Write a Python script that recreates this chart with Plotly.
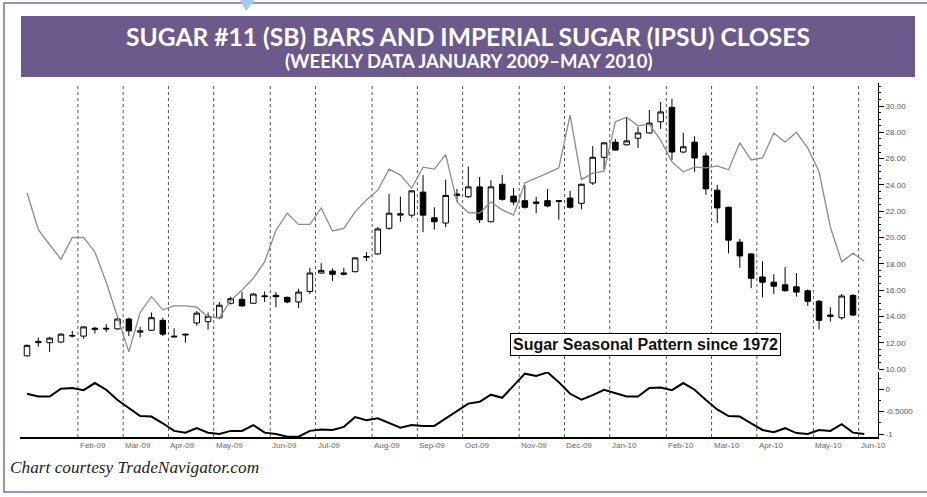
import pandas as pd
import plotly.graph_objects as go

# ---------------- data ----------------
n_weeks = 75
week_dates = pd.date_range("2009-01-02", periods=n_weeks, freq="7D")  # weekly (Friday) bars

sb_open = [11.0, 12.0, 12.0, 12.05, 12.5, 12.5, 13.0, 13.1, 13.05, 13.8,
           12.8, 12.95, 13.7, 12.5, 12.65, 13.5, 13.6, 13.9, 15.0, 15.3,
           15.0, 15.5, 15.6, 15.45, 15.1, 15.9, 17.3, 17.45, 17.2, 17.4,
           18.5, 18.75, 20.7, 21.7, 21.7, 23.45, 21.5, 21.1, 23.2, 23.1,
           23.85, 21.2, 24.05, 23.15, 22.8, 22.7, 22.8, 22.8, 23.0, 22.6,
           24.15, 26.1, 27.25, 27.05, 27.55, 27.95, 28.8, 29.9, 26.5, 27.25,
           26.2, 23.6, 22.3, 19.65, 18.75, 17.0, 16.6, 16.4, 16.25, 15.95,
           15.15, 14.0, 13.9, 15.6]
sb_high = [11.85, 12.4, 12.45, 12.7, 12.9, 13.25, 13.2, 13.4, 14.0, 13.9,
           13.2, 14.3, 13.9, 13.1, 12.7, 14.4, 14.3, 15.1, 15.5, 15.85,
           15.75, 15.9, 15.85, 15.5, 16.1, 17.7, 18.05, 17.65, 17.7, 18.5,
           18.9, 20.8, 23.3, 23.1, 23.6, 24.75, 22.3, 24.4, 23.7, 25.4,
           24.6, 24.35, 24.75, 23.75, 24.0, 23.1, 23.7, 22.85, 23.55, 24.1,
           26.95, 27.25, 27.5, 29.15, 28.4, 29.7, 30.3, 30.55, 27.95, 27.7,
           26.45, 24.0, 22.35, 19.9, 18.8, 18.2, 17.2, 17.75, 17.3, 16.05,
           15.25, 14.7, 15.7, 15.7]
sb_low = [10.95, 11.7, 11.3, 12.0, 12.4, 12.3, 12.7, 12.8, 13.0, 12.5,
          12.4, 12.9, 12.5, 12.4, 12.0, 13.3, 13.0, 13.8, 14.9, 14.75,
          14.95, 15.1, 14.7, 15.0, 14.65, 15.7, 17.25, 16.7, 17.1, 17.35,
          18.2, 18.7, 20.6, 21.2, 21.5, 20.4, 20.6, 20.8, 22.7, 23.0,
          21.1, 21.15, 22.8, 22.45, 22.2, 21.85, 22.3, 21.35, 22.2, 22.15,
          24.0, 25.15, 26.6, 27.0, 26.8, 27.9, 28.25, 25.9, 26.4, 25.0,
          23.25, 21.1, 18.8, 17.7, 16.15, 15.45, 15.7, 15.9, 15.5, 14.8,
          13.0, 13.6, 13.75, 14.05]
sb_close = [11.8, 12.1, 12.35, 12.65, 12.55, 13.2, 13.1, 13.05, 13.8, 12.9,
            12.9, 13.9, 12.65, 12.45, 12.6, 14.25, 14.0, 14.85, 15.35, 14.8,
            15.7, 15.55, 15.5, 15.1, 15.85, 17.3, 17.5, 17.2, 17.3, 18.45,
            18.55, 20.65, 21.85, 21.8, 23.55, 21.7, 21.2, 23.2, 23.3, 23.85,
            21.35, 23.85, 22.9, 22.7, 22.3, 22.6, 22.4, 22.75, 22.3, 24.05,
            26.1, 27.2, 26.65, 27.35, 27.95, 28.7, 29.55, 26.5, 26.9, 26.05,
            23.7, 22.25, 19.8, 18.6, 16.9, 16.6, 16.3, 15.95, 15.85, 15.15,
            13.7, 14.1, 15.55, 14.1]

ipsu_close = [23.4, 20.6, 19.45, 18.35, 20.0, 20.0, 18.9, 16.6, 13.95, 11.3,
              14.3, 15.5, 14.5, 14.8, 14.8, 14.7, 13.95, 13.9, 15.2, 16.0,
              16.9, 18.15, 20.55, 21.85, 21.0, 21.0, 22.25, 20.5, 20.7, 21.95,
              22.85, 23.6, 25.2, 24.75, 23.75, 25.35, 25.2, 26.3, 22.7, 21.9,
              21.85, 22.7, 22.1, 21.7, 24.15, 24.5, 24.9, 25.3, 29.3, 24.4,
              24.9, 25.05, 28.8, 29.15, 28.5, 28.6, 27.4, 25.75, 25.0, 25.35,
              25.3, 25.45, 25.15, 27.2, 25.9, 26.05, 27.95, 27.25, 28.0, 26.8,
              25.0, 20.8, 18.15, 18.8, 18.2]

seasonal = [-0.10, -0.16, -0.16, 0.015, 0.03, -0.02, 0.14, -0.01, -0.24, -0.43,
            -0.60, -0.61, -0.76, -0.93, -0.97, -0.87, -0.97, -1.0, -0.93, -0.93,
            -0.80, -0.97, -1.0, -1.06, -1.06, -0.93, -0.90, -0.91, -0.84, -0.62,
            -0.69, -0.65, -0.76, -0.86, -0.80, -0.82, -0.82, -0.65, -0.47, -0.32,
            -0.28, -0.12, -0.19, 0.09, 0.35, 0.30, 0.38, 0.16, -0.10, -0.23,
            -0.13, -0.01, -0.08, -0.16, -0.16, 0.03, 0.04, -0.02, 0.14, -0.01,
            -0.24, -0.45, -0.60, -0.61, -0.76, -0.91, -0.96, -0.87, -0.98, -1.0,
            -0.91, -0.93, -0.78, -0.97, -1.0]

upper_ticks = [10, 12, 14, 16, 18, 20, 22, 24, 26, 28, 30]
lower_ticks = [0, -0.5, -1]
lower_tick_text = ["0", "-0.5000", "-1"]

title_main = "SUGAR #11 (SB) BARS AND IMPERIAL SUGAR (IPSU) CLOSES"
title_sub = "(WEEKLY DATA JANUARY 2009\u2013MAY 2010)"
box_label = "Sugar Seasonal Pattern since 1972"
caption = "Chart courtesy TradeNavigator.com"

# ---------------- layout helpers (pixel -> paper) ----------------
W, H = 927, 497
PL, PR, PT, PB = 20, 878, 83, 437


def px(x):
    return (x - PL) / (PR - PL)


def py(y):
    return (PB - y) / (PB - PT)


week = pd.Timedelta(days=7)
x_range = [week_dates[0] - 0.62 * week, week_dates[0] + 75.21 * week]

fig = go.Figure()

# IPSU closes (gray line)
fig.add_trace(go.Scatter(x=week_dates, y=ipsu_close, mode="lines",
                         line=dict(color="#8c8c8c", width=1.3),
                         xaxis="x", yaxis="y", showlegend=False, hoverinfo="skip"))

# Sugar #11 candles
fig.add_trace(go.Candlestick(
    x=week_dates[:len(sb_open)], open=sb_open, high=sb_high, low=sb_low, close=sb_close,
    increasing=dict(line=dict(color="black", width=1), fillcolor="white"),
    decreasing=dict(line=dict(color="black", width=1), fillcolor="black"),
    whiskerwidth=0, xaxis="x", yaxis="y", showlegend=False))

# Seasonal pattern (lower panel)
fig.add_trace(go.Scatter(x=week_dates, y=seasonal, mode="lines",
                         line=dict(color="black", width=2),
                         xaxis="x", yaxis="y2", showlegend=False))

shapes = []
annotations = []

# month separator lines + labels
for i in range(1, n_weeks):
    if week_dates[i].month != week_dates[i - 1].month:
        xline = week_dates[i] - pd.Timedelta(days=3.5)
        shapes.append(dict(type="line", xref="x", yref="paper", x0=xline, x1=xline,
                           y0=0, y1=1, line=dict(color="#555555", width=1, dash="dot"),
                           layer="below"))
        annotations.append(dict(x=xline, xref="x", y=py(439), yref="paper",
                                xanchor="left", yanchor="top", showarrow=False,
                                text=week_dates[i].strftime("%b-%y"),
                                font=dict(family="Liberation Sans, Arial", size=8, color="#666666")))

# outer frame
shapes.append(dict(type="rect", xref="paper", yref="paper",
                   x0=px(4), x1=px(960), y0=py(3), y1=py(492),
                   line=dict(color="#7b6fa3", width=1.5), layer="below"))
# title band
shapes.append(dict(type="rect", xref="paper", yref="paper",
                   x0=px(21), x1=px(915), y0=py(16), y1=py(77),
                   line=dict(width=0), fillcolor="#6c5a8c", layer="below"))
# small blue chevron at top
shapes.append(dict(type="path", xref="paper", yref="paper",
                   path=f"M {px(240)},{py(0)} L {px(255)},{py(0)} L {px(246)},{py(11)} Z",
                   line=dict(width=0), fillcolor="#a9c9ee"))

title_font = "Lato, Open Sans, Liberation Sans"
annotations.append(dict(x=px(468), y=py(36), xref="paper", yref="paper", showarrow=False,
                        text=f"<b>{title_main}</b>", xanchor="center", yanchor="middle",
                        font=dict(family=title_font, size=24.6, color="white")))
annotations.append(dict(x=px(469), y=py(61), xref="paper", yref="paper", showarrow=False,
                        text=f"<b>{title_sub}</b>", xanchor="center", yanchor="middle",
                        font=dict(family=title_font, size=18.5, color="white")))
annotations.append(dict(x=px(645), y=py(344), xref="paper", yref="paper", showarrow=False,
                        text=f"<b>{box_label}</b>", xanchor="center", yanchor="middle",
                        bgcolor="white", bordercolor="black", borderwidth=1, borderpad=2,
                        font=dict(family="Liberation Sans, Arial", size=16, color="#111111")))
annotations.append(dict(x=px(8), y=py(468), xref="paper", yref="paper", showarrow=False,
                        text=caption, xanchor="left", yanchor="middle",
                        font=dict(family="Liberation Serif, Times New Roman", size=17.3,
                                  color="#222222", style="italic")))

tickfont = dict(family="Liberation Sans, Arial", size=8, color="#555555")

fig.update_layout(
    width=W, height=H,
    margin=dict(l=PL, r=W - PR, t=PT, b=H - PB),
    paper_bgcolor="white", plot_bgcolor="white",
    showlegend=False,
    xaxis=dict(domain=[0, 1], anchor="y2", type="date", range=x_range,
               showgrid=False, zeroline=False, showline=True, linecolor="black",
               linewidth=1.5, showticklabels=False, ticks="",
               rangeslider=dict(visible=False)),
    yaxis=dict(domain=[py(369), 1], anchor="x", side="right", range=[10, 31.75],
               tickvals=upper_ticks, tickformat=".2f", showgrid=False, zeroline=False,
               showline=True, linecolor="black", linewidth=1, ticks="outside",
               ticklen=5, tickcolor="black", tickfont=tickfont,
               minor=dict(dtick=0.5, ticks="outside", ticklen=2, tickcolor="black", showgrid=False)),
    yaxis2=dict(domain=[0, py(372)], anchor="x", side="right", range=[-1.067, 0.387],
                tickvals=lower_ticks, ticktext=lower_tick_text, showgrid=False, zeroline=False,
                showline=True, linecolor="black", linewidth=1, ticks="outside",
                ticklen=5, tickcolor="black", tickfont=tickfont,
                minor=dict(tickvals=[0.25, -0.25, -0.75], ticks="outside", ticklen=2,
                           tickcolor="black", showgrid=False)),
    shapes=shapes,
    annotations=annotations,
)

# remove the browser's default page margin so the figure sits at the window origin
fig.write_html("out.html", config={"displayModeBar": False},
               post_script="document.body.style.margin='0';")
